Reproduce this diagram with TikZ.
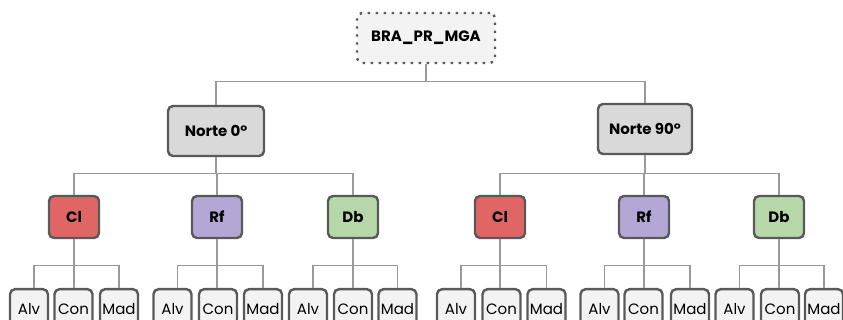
\documentclass[tikz,border=0pt]{standalone}
\usepackage{fontspec}
\setmainfont{Poppins}
\begin{document}
\begin{tikzpicture}[x=1pt,y=-1pt,
  box/.style={draw=boxborder,line width=2.4pt,rounded corners=5pt,inner sep=0pt,align=center},
  rootbox/.style={box,fill=rootfill,dash pattern=on 2.4pt off 5.6pt,minimum width=138pt,minimum height=50pt,font=\fontsize{15}{18}\selectfont\bfseries},
  nortebox/.style={box,fill=nortefill,minimum height=50pt,font=\fontsize{15}{18}\selectfont\bfseries},
  catbox/.style={box,minimum width=50pt,minimum height=42pt,font=\fontsize{15}{18}\selectfont\bfseries},
  leafbox/.style={box,fill=rootfill,minimum width=38pt,minimum height=40pt,font=\fontsize{15}{18}\selectfont,text depth=0pt,anchor=north},
  conn/.style={draw=connline,line width=1.2pt}]
\definecolor{boxborder}{HTML}{595959}
\definecolor{rootfill}{HTML}{F3F3F3}
\definecolor{nortefill}{HTML}{D9D9D9}
\definecolor{connline}{HTML}{999999}
\definecolor{clfill}{HTML}{E06666}
\definecolor{rffill}{HTML}{B4A7D6}
\definecolor{dbfill}{HTML}{B6D7A8}
\useasboundingbox (0,0) rectangle (843,320);
\clip (0,0) rectangle (843,320);
\node[rootbox] (root) at (426,38) {BRA\_PR\_MGA};
\node[nortebox,minimum width=96pt] (na) at (216,131) {Norte 0°};
\node[nortebox,minimum width=94pt] (nb) at (645,129) {Norte 90°};
\node[catbox,fill=clfill] (cla) at (74,217) {Cl};
\node[catbox,fill=rffill] (rfa) at (217,217) {Rf};
\node[catbox,fill=dbfill] (dba) at (353,217) {Db};
\node[catbox,fill=clfill] (clb) at (500,217) {Cl};
\node[catbox,fill=rffill] (rfb) at (644,217) {Rf};
\node[catbox,fill=dbfill] (dbb) at (779,217) {Db};
\draw[conn] (root.south) -- ++(0,17) -| (na.north);
\draw[conn] (root.south) -- ++(0,17) -| (nb.north);
\foreach \c in {cla,rfa,dba} \draw[conn] (na.south) -- ++(0,16) -| (\c.north);
\foreach \c in {clb,rfb,dbb} \draw[conn] (nb.south) -- ++(0,18) -| (\c.north);
\foreach \g/\p/\xa/\xb/\xc in {cla/ga/29/73.5/119, rfa/gb/172.5/218/263, dba/gc/308/353/397.5, clb/gd/456/501.5/546.5, rfb/ge/599.5/643.5/690, dbb/gf/734.5/780/824}{
  \node[leafbox] (\p alv) at (\xa,288) {Alv};
  \node[leafbox] (\p con) at (\xb,288) {Con};
  \node[leafbox] (\p mad) at (\xc,288) {Mad};
  \draw[conn] (\g.south) -- ++(0,26) -| ([xshift=5pt]\p alv.north);
  \draw[conn] (\g.south) -- ++(0,26) -| (\p mad.north);
  \draw[conn] (\g.south) -- (\g.south |- \p con.north);
}
\end{tikzpicture}
\end{document}
